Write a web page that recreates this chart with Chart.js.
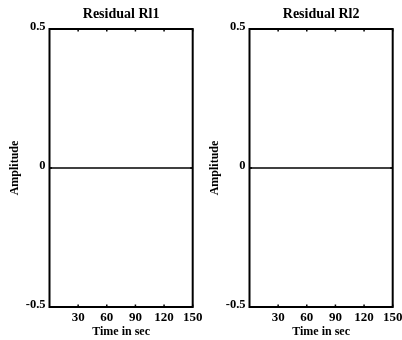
<!DOCTYPE html>
<html><head><meta charset="utf-8">
<script src="https://cdn.jsdelivr.net/npm/chart.js@4/dist/chart.umd.min.js"></script>
<style>
html,body{margin:0;padding:0;background:#fff;}
#wrap{position:relative;width:402px;height:340px;overflow:hidden;background:#fff;}
canvas{position:absolute;top:0;}
</style></head><body>
<div id="wrap">
<canvas id="c1" width="215" height="340" style="left:0px"></canvas>
<canvas id="c2" width="202" height="340" style="left:200px"></canvas>
</div>
<script>
const timeSec = [0, 30, 60, 90, 120, 150];
const residualRl1 = [0, 0, 0, 0, 0, 0];
const residualRl2 = [0, 0, 0, 0, 0, 0];
const xTickValues = [30, 60, 90, 120, 150];
const yTickValues = [-0.5, 0, 0.5];
const chartTitles = ['Residual Rl1', 'Residual Rl2'];
const xAxisTitle = 'Time in sec';
const yAxisTitle = 'Amplitude';

const FAM = '"Liberation Serif", "Times New Roman", serif';

const boxPlugin = {
  id: 'box',
  afterDatasetsDraw(chart) {
    const {ctx, chartArea: a, scales: {x, y}} = chart;
    ctx.save();
    ctx.strokeStyle = '#000';
    ctx.lineWidth = 2;
    ctx.strokeRect(a.left, a.top, a.right - a.left, a.bottom - a.top);
    ctx.lineWidth = 1.5;
    ctx.beginPath();
    const tl = 2.5;
    xTickValues.forEach(v => {
      const px = x.getPixelForValue(v);
      ctx.moveTo(px, a.top); ctx.lineTo(px, a.top + tl);
      ctx.moveTo(px, a.bottom); ctx.lineTo(px, a.bottom - tl);
    });
    yTickValues.forEach(v => {
      const py = y.getPixelForValue(v);
      ctx.moveTo(a.left, py); ctx.lineTo(a.left + tl, py);
      ctx.moveTo(a.right, py); ctx.lineTo(a.right - tl, py);
    });
    ctx.stroke();
    ctx.restore();
  }
};

function makeChart(id, title, values, padRight) {
  return new Chart(document.getElementById(id), {
    type: 'line',
    data: {
      datasets: [{
        data: timeSec.map((t, i) => ({x: t, y: values[i]})),
        borderColor: '#000', borderWidth: 1.5, pointRadius: 0, tension: 0, fill: false
      }]
    },
    options: {
      responsive: false, animation: false,
      layout: {padding: {left: 0, right: padRight, top: 0, bottom: 0}},
      plugins: {
        legend: {display: false}, tooltip: {enabled: false},
        title: {
          display: true, text: title, fullSize: false, color: '#000',
          font: {family: FAM, size: 14, weight: 'bold', lineHeight: 1.2},
          padding: {top: 5.6, bottom: 6.6}
        }
      },
      scales: {
        x: {
          type: 'linear', min: 0, max: 150,
          afterBuildTicks: s => { s.ticks = xTickValues.map(v => ({value: v})); },
          afterFit: s => { s.height = 33; s.paddingLeft = 0; s.paddingRight = 0; },
          grid: {display: false, drawTicks: false}, border: {display: false},
          ticks: {color: '#000', font: {family: FAM, size: 13, weight: 'bold'}, padding: 3, maxRotation: 0, autoSkip: false},
          title: {display: true, text: xAxisTitle, color: '#000', font: {family: FAM, size: 12, weight: 'bold', lineHeight: 1.2}, padding: {top: 0, bottom: 1.2}}
        },
        y: {
          type: 'linear', min: -0.5, max: 0.5,
          afterBuildTicks: s => { s.ticks = yTickValues.map(v => ({value: v})); },
          afterFit: s => { s.width = 49.5; s.paddingTop = 0; s.paddingBottom = 0; },
          grid: {display: false, drawTicks: false}, border: {display: false},
          ticks: {color: '#000', font: {family: FAM, size: 12.5, weight: 'bold'}, padding: 4, labelOffset: -2, autoSkip: false},
          title: {display: true, text: yAxisTitle, color: '#000', font: {family: FAM, size: 12, weight: 'bold', lineHeight: 1.2}, padding: {top: 7.4, bottom: 0}}
        }
      }
    },
    plugins: [boxPlugin]
  });
}

makeChart('c1', chartTitles[0], residualRl1, 22.3);
makeChart('c2', chartTitles[1], residualRl2, 9.3);
</script>
</body></html>
